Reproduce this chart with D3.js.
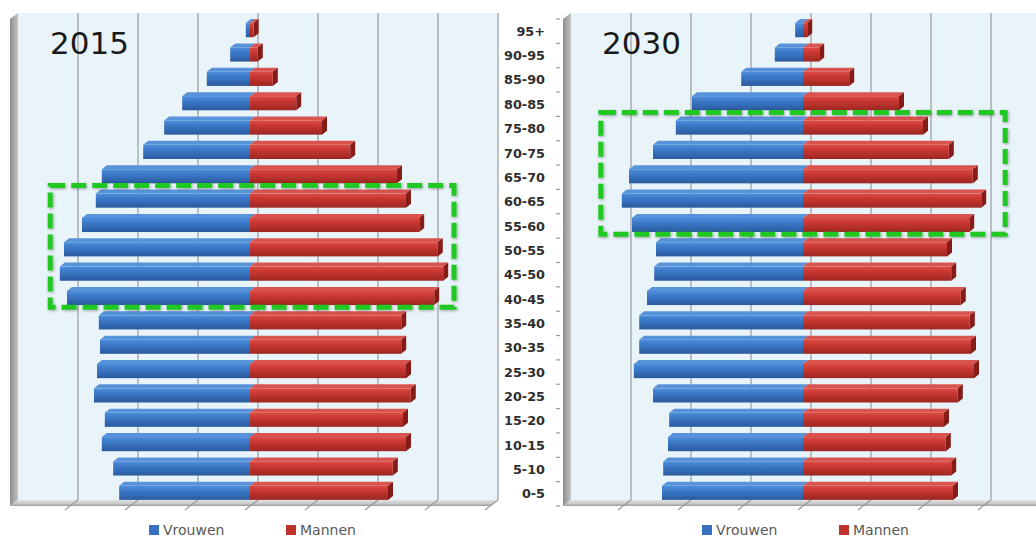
<!DOCTYPE html>
<html lang="nl">
<head>
<meta charset="UTF-8">
<title>Bevolkingspiramide 2015 en 2030</title>
<style>
  body { margin: 0; background: #fff; }
  svg { display: block; font-family: "DejaVu Sans", Verdana, sans-serif; }
  .age { font-size: 12.8px; font-weight: bold; fill: #2e2e2e; }
  .legend text { font-size: 14px; fill: #595959; }
  .year { font-size: 31px; fill: #1a1a1a; }
</style>
</head>
<body>
<svg id="chart" width="1036" height="537"></svg>
<script src="https://d3js.org/d3.v7.min.js"></script>
<script>
// age groups, bottom to top
const ages = ["0-5", "5-10", "10-15", "15-20", "20-25", "25-30", "30-35", "35-40", "40-45", "45-50",
              "50-55", "55-60", "60-65", "65-70", "70-75", "75-80", "80-85", "85-90", "90-95", "95+"];

// values in grid units (one vertical gridline = 1)
const vrouwen2015 = [2.18, 2.28, 2.47, 2.42, 2.60, 2.55, 2.50, 2.52, 3.05, 3.17,
                     3.10, 2.80, 2.57, 2.47, 1.78, 1.43, 1.13, 0.72, 0.33, 0.07];
const mannen2015  = [2.30, 2.38, 2.60, 2.55, 2.68, 2.60, 2.52, 2.52, 3.07, 3.22,
                     3.13, 2.82, 2.60, 2.45, 1.67, 1.20, 0.77, 0.38, 0.13, 0.06];
const vrouwen2030 = [2.35, 2.33, 2.25, 2.23, 2.50, 2.82, 2.73, 2.73, 2.60, 2.48,
                     2.45, 2.85, 3.02, 2.90, 2.50, 2.12, 1.85, 1.03, 0.47, 0.13];
const mannen2030  = [2.50, 2.47, 2.38, 2.35, 2.58, 2.85, 2.80, 2.78, 2.63, 2.47,
                     2.40, 2.77, 2.97, 2.83, 2.43, 2.00, 1.60, 0.77, 0.27, 0.07];

const xTicks = [-4, -3, -2, -1, 0, 1, 2, 3, 4];
const seriesNames = ["Vrouwen", "Mannen"];

// highlighted age ranges (green dashed box)
const highlight2015 = { from: "40-45", to: "60-65", extent: [-3.33, 3.4] };
const highlight2030 = { from: "55-60", to: "75-80", extent: [-3.37, 3.37] };

const svg = d3.select("#chart");
const defs = svg.append("defs");

// 3D depth offsets
const wallD = { dx: 8, dy: -6 };
const barD = { dx: 5, dy: -4 };

function grad(id, stops) {
  const g = defs.append("linearGradient").attr("id", id)
    .attr("x1", 0).attr("y1", 0).attr("x2", 0).attr("y2", 1);
  stops.forEach(s => g.append("stop").attr("offset", s[0]).attr("stop-color", s[1]));
}
grad("blueFront", [[0, "#4e8edb"], [0.35, "#3b79c8"], [1, "#2a5a9f"]]);
grad("redFront", [[0, "#dc4b45"], [0.35, "#c93731"], [1, "#9d2622"]]);
grad("floorGrad", [[0, "#e2e2e2"], [0.6, "#c9c9c9"], [1, "#9a9a9a"]]);
const wg = defs.append("linearGradient").attr("id", "wallGrad")
  .attr("x1", 0).attr("y1", 0).attr("x2", 1).attr("y2", 0);
wg.append("stop").attr("offset", 0).attr("stop-color", "#8e8e8e");
wg.append("stop").attr("offset", 1).attr("stop-color", "#c4c4c4");

const shadow = defs.append("filter").attr("id", "soft")
  .attr("x", "-5%").attr("y", "-5%").attr("width", "110%").attr("height", "110%");
shadow.append("feDropShadow").attr("dx", 1).attr("dy", 1)
  .attr("stdDeviation", 1.4).attr("flood-color", "#000").attr("flood-opacity", 0.35);

const colors = {
  blue: { front: "url(#blueFront)", top: "#5893da", side: "#224d8a" },
  red:  { front: "url(#redFront)",  top: "#d9544e", side: "#861c18" }
};

const y = d3.scaleBand()
  .domain(ages.slice().reverse())
  .range([19, 506])
  .paddingInner(0.42)
  .paddingOuter(0.21);
const step = y.step();
const yTop = y.range()[0], yBottom = y.range()[1];

const poly = pts => "M" + pts.map(p => p.join(",")).join("L") + "Z";

function drawPanel(cfg) {
  const x = d3.scaleLinear().domain([-4, 4]).range(cfg.range);
  const g = svg.append("g");
  const [fx0, fx1] = x.range();

  // back wall
  g.append("rect")
    .attr("x", fx0 + wallD.dx).attr("y", yTop + wallD.dy)
    .attr("width", fx1 - fx0).attr("height", yBottom - yTop)
    .attr("fill", "#e9f4fa");

  // vertical gridlines on the back wall
  g.selectAll(".grid").data(xTicks.slice(1)).join("line")
    .attr("x1", d => x(d) + wallD.dx).attr("x2", d => x(d) + wallD.dx)
    .attr("y1", yTop + wallD.dy).attr("y2", yBottom + wallD.dy)
    .attr("stroke", "#a8a8a8").attr("stroke-width", 1.4);

  // floor
  g.append("path")
    .attr("d", poly([[fx0 + wallD.dx, yBottom + wallD.dy], [fx1 + wallD.dx, yBottom + wallD.dy],
                     [fx1, yBottom], [fx0, yBottom]]))
    .attr("fill", "url(#floorGrad)");
  g.selectAll(".ftick").data(xTicks.slice(1)).join("path")
    .attr("d", d => `M${x(d) + wallD.dx},${yBottom + wallD.dy}L${x(d)},${yBottom}L${x(d) - 5},${yBottom + 4}`)
    .attr("fill", "none").attr("stroke", "#9b9b9b").attr("stroke-width", 1.2);

  // left side wall
  g.append("path")
    .attr("d", poly([[fx0 + wallD.dx, yTop + wallD.dy], [fx0, yTop], [fx0, yBottom],
                     [fx0 + wallD.dx, yBottom + wallD.dy]]))
    .attr("fill", "url(#wallGrad)");

  // bars
  const rows = ages.map((a, i) => ({ age: a, v: cfg.vrouwen[i], m: cfg.mannen[i] }));
  const bh = y.bandwidth();
  const bar = (sel, x0, x1, c, withSide) => {
    const t = (d) => y(d.age) - 1;
    sel.append("path")
      .attr("d", d => poly([[x0(d), t(d)], [x0(d) + barD.dx, t(d) + barD.dy],
                            [x1(d) + barD.dx, t(d) + barD.dy], [x1(d), t(d)]]))
      .attr("fill", c.top);
    if (withSide) {
      sel.append("path")
        .attr("d", d => poly([[x1(d), t(d)], [x1(d) + barD.dx, t(d) + barD.dy],
                              [x1(d) + barD.dx, t(d) + bh + barD.dy], [x1(d), t(d) + bh]]))
        .attr("fill", c.side);
    }
    sel.append("rect")
      .attr("x", x0).attr("y", t)
      .attr("width", d => x1(d) - x0(d)).attr("height", bh)
      .attr("fill", c.front);
  };

  const rowG = g.selectAll(".row").data(rows).join("g");
  bar(rowG, d => x(-d.v), () => x(0), colors.blue, false);
  bar(rowG, () => x(0), d => x(d.m), colors.red, true);

  // year label
  g.append("text").attr("class", "year")
    .attr("x", x(-4) + cfg.titleDx).attr("y", 54)
    .text(cfg.year);

  // highlight box
  const h = cfg.highlight;
  g.append("rect")
    .attr("x", x(h.extent[0])).attr("y", y(h.to) - (step - bh) / 2 - 4)
    .attr("width", x(h.extent[1]) - x(h.extent[0]))
    .attr("height", y(h.from) - y(h.to) + step)
    .attr("fill", "none").attr("stroke", "#22c822").attr("stroke-width", 5)
    .attr("stroke-dasharray", "15 6")
    .attr("filter", "url(#soft)");

  // legend
  const lg = g.append("g").attr("class", "legend");
  const legendX = [x(0) - 101, x(0) + 36];
  const legendC = ["#3a70c0", "#c0302c"];
  seriesNames.forEach((name, i) => {
    lg.append("rect").attr("x", legendX[i]).attr("y", 525)
      .attr("width", 10).attr("height", 10).attr("fill", legendC[i]);
    lg.append("text").attr("x", legendX[i] + 14).attr("y", 535).text(name);
  });
  return x;
}

drawPanel({ year: "2015", range: [10, 490], vrouwen: vrouwen2015, mannen: mannen2015,
            highlight: highlight2015, titleDx: 40 });
const x2 = drawPanel({ year: "2030", range: [563, 1043], vrouwen: vrouwen2030, mannen: mannen2030,
            highlight: highlight2030, titleDx: 39 });

// category axis between the panels
const axisX = x2.range()[0];
const bounds = d3.range(ages.length + 1).map(i => yTop + i * step);
svg.append("g").selectAll("line").data(bounds).join("line")
  .attr("x1", axisX - 7).attr("x2", axisX - 3)
  .attr("y1", d => d).attr("y2", d => d)
  .attr("stroke", "#9a9a9a").attr("stroke-width", 1.2);
svg.append("g").selectAll("text").data(ages).join("text")
  .attr("class", "age")
  .attr("x", axisX - 18)
  .attr("y", d => y(d) + y.bandwidth() / 2)
  .attr("dy", "0.36em")
  .attr("text-anchor", "end")
  .text(d => d);
</script>
</body>
</html>
